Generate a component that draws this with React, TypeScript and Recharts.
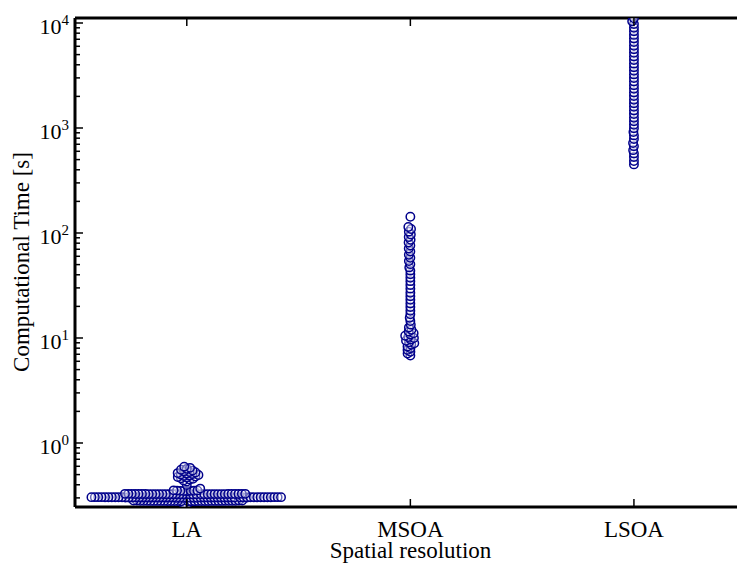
import React from "react";
import { ScatterChart, Scatter, XAxis, YAxis } from "recharts";

// ---------- data ----------
const categories = ["LA", "MSOA", "LSOA"];

const laTimes = [
  // lowest values
  0.260, 0.264,
  // ~0.28
  0.281, 0.280, 0.282, 0.279, 0.283, 0.281, 0.280, 0.282, 0.281, 0.279, 0.283, 0.280, 0.282, 0.281,
  0.280, 0.282, 0.281, 0.283, 0.279, 0.281, 0.280, 0.282, 0.281, 0.280, 0.282, 0.283, 0.281, 0.279,
  0.280, 0.282, 0.281, 0.280,
  // ~0.30 (bulk)
  0.303, 0.302, 0.304, 0.301, 0.305, 0.303, 0.302, 0.304, 0.303, 0.301, 0.305, 0.302, 0.304, 0.303,
  0.302, 0.304, 0.303, 0.305, 0.301, 0.303, 0.302, 0.304, 0.303, 0.302, 0.304, 0.305, 0.303, 0.301,
  0.302, 0.304, 0.303, 0.302, 0.304, 0.303, 0.301, 0.305, 0.302, 0.304, 0.303, 0.302, 0.304, 0.303,
  0.305, 0.301, 0.303, 0.302, 0.304, 0.303, 0.302, 0.304, 0.305, 0.303, 0.301, 0.302, 0.304, 0.303,
  // ~0.33
  0.326, 0.325, 0.327, 0.324, 0.328, 0.326, 0.325, 0.327, 0.326, 0.324, 0.328, 0.325, 0.327, 0.326,
  0.325, 0.327, 0.326, 0.328, 0.324, 0.326, 0.325, 0.327, 0.326, 0.325, 0.327, 0.328, 0.326, 0.324,
  0.325, 0.327, 0.326, 0.325, 0.327, 0.326, 0.324, 0.328,
  // ~0.35 and above
  0.349, 0.352, 0.350, 0.353, 0.348, 0.351, 0.354, 0.350,
  0.368, 0.398,
  // upper cluster
  0.43, 0.44, 0.448, 0.456, 0.462, 0.468, 0.474, 0.48, 0.486, 0.491, 0.496, 0.501, 0.506, 0.511,
  0.517, 0.523, 0.53, 0.538, 0.546, 0.556, 0.567, 0.58, 0.595,
];

const msoaTimes = [
  6.8, 7.1, 7.4, 7.7, 8.0, 8.3, 8.6, 8.9, 9.1, 9.4, 9.7, 10.0, 10.2, 10.5, 10.8, 11.1, 11.5, 12.0,
  12.6, 13.4, 14.5, 15.6, 16.8, 18.2, 19.7, 21.3, 23.1, 25.0, 27.0, 29.5, 32.0, 34.8, 37.5, 40.5,
  43.8, 47.0, 50.5, 54.0, 58.0, 62.0, 66.5, 71.0, 76.0, 81.0, 86.0, 91.5, 97.0, 103.0, 109.0, 114.0,
  143.0,
];

const lsoaTimes = [
  450, 485, 530, 572, 615, 670, 720, 785, 850, 915, 995, 1075, 1160, 1250, 1360, 1470, 1595, 1720,
  1860, 2020, 2180, 2360, 2550, 2770, 2990, 3240, 3500, 3790, 4100, 4430, 4800, 5200, 5620, 6080,
  6580, 7120, 7700, 8330, 9020, 9760, 10400, 11080,
];

const majorTicks = [1, 10, 100, 1000, 10000];
const minorTicks = [
  0.3, 0.4, 0.5, 0.6, 0.7, 0.8, 0.9,
  2, 3, 4, 5, 6, 7, 8, 9,
  20, 30, 40, 50, 60, 70, 80, 90,
  200, 300, 400, 500, 600, 700, 800, 900,
  2000, 3000, 4000, 5000, 6000, 7000, 8000, 9000,
];
const exponents: Record<number, string> = { 1: "0", 10: "1", 100: "2", 1000: "3", 10000: "4" };

// ---------- layout ----------
const W = 737;
const H = 568;
const LEFT = 75;
const TOP = 18;
const BOTTOM_AXIS_H = 61;
const X_DOMAIN: [number, number] = [-0.5, 2.461];
const Y_DOMAIN: [number, number] = [0.2457, 11158];
const PLOT_W = W - LEFT;
const PLOT_H = H - TOP - BOTTOM_AXIS_H;
const PX_PER_UNIT = PLOT_W / (X_DOMAIN[1] - X_DOMAIN[0]);
const PX_PER_DECADE = PLOT_H / (Math.log10(Y_DOMAIN[1]) - Math.log10(Y_DOMAIN[0]));
const SWARM_D = 3.4;

// beeswarm layout (like a swarm plot): horizontal offsets so points don't collide
function swarm(values: number[], center: number) {
  const pts = values
    .map((v) => ({ v, py: Math.log10(v) * PX_PER_DECADE }))
    .sort((a, b) => a.py - b.py);
  const placed: { px: number; py: number; v: number }[] = [];
  const D2 = SWARM_D * SWARM_D;
  for (const p of pts) {
    const cands = [0];
    for (const q of placed) {
      const dy = p.py - q.py;
      if (Math.abs(dy) < SWARM_D) {
        const dx = Math.sqrt(D2 - dy * dy) + 1e-6;
        cands.push(q.px + dx, q.px - dx);
      }
    }
    cands.sort((a, b) => Math.abs(a) - Math.abs(b) || a - b);
    let chosen = cands[cands.length - 1];
    for (const c of cands) {
      if (placed.every((q) => (q.px - c) ** 2 + (q.py - p.py) ** 2 >= D2 - 1e-4)) {
        chosen = c;
        break;
      }
    }
    placed.push({ px: chosen, py: p.py, v: p.v });
  }
  return placed.map((q) => ({ x: center + q.px / PX_PER_UNIT, y: q.v }));
}

const points = [
  ...swarm(laTimes, 0),
  ...swarm(msoaTimes, 1),
  ...swarm(lsoaTimes, 2),
];

const SERIF = "'Liberation Serif', 'Times New Roman', serif";
const STROKE = "#00008B";

const Dot = (props: any) => {
  const { cx, cy } = props;
  if (cx == null || cy == null) return null;
  return (
    <circle cx={cx} cy={cy} r={4.2} fill="#ffffff" fillOpacity={0.4} stroke={STROKE} strokeOpacity={1} strokeWidth={1.5} />
  );
};

const BottomTick = (props: any) => {
  const { x, y, payload } = props;
  return (
    <g>
      <line x1={x} y1={y} x2={x} y2={y - 8} stroke="#000" strokeWidth={1.5} />
      <text x={x} y={y + 30} textAnchor="middle" fontFamily={SERIF} fontSize={23} fill="#000">
        {categories[payload.value]}
      </text>
    </g>
  );
};

const TopTick = (props: any) => {
  const { x, y } = props;
  return <line x1={x} y1={y} x2={x} y2={y + 8} stroke="#000" strokeWidth={1.5} />;
};

const LeftTick = (props: any) => {
  const { x, y, payload } = props;
  const v = payload.value;
  const isMajor = majorTicks.includes(v);
  return (
    <g>
      <line x1={x} y1={y} x2={x + (isMajor ? 8 : 5)} y2={y} stroke="#000" strokeWidth={1.5} />
      {isMajor && (
        <text x={x - 6} y={y + 11} textAnchor="end" fontFamily={SERIF} fontSize={22} fill="#000">
          <tspan>10</tspan>
          <tspan dy={-9} fontSize={15}>{exponents[v]}</tspan>
        </text>
      )}
    </g>
  );
};

export default function App() {
  return (
    <div style={{ position: "fixed", left: 0, top: 0, width: W, height: H, background: "#fff", overflow: "hidden" }}>
      <ScatterChart width={W} height={H} margin={{ top: TOP - 1, right: 0, bottom: 0, left: 0 }}>
        <XAxis
          xAxisId="b"
          type="number"
          dataKey="x"
          domain={X_DOMAIN}
          allowDataOverflow
          ticks={[0, 1, 2]}
          interval={0}
          height={BOTTOM_AXIS_H}
          tickSize={0}
          tickMargin={0}
          tickLine={false}
          axisLine={{ stroke: "#000", strokeWidth: 3 }}
          tick={<BottomTick />}
        />
        <XAxis
          xAxisId="t"
          orientation="top"
          type="number"
          dataKey="x"
          domain={X_DOMAIN}
          allowDataOverflow
          ticks={[0, 1, 2]}
          interval={0}
          height={1}
          tickSize={0}
          tickMargin={0}
          tickLine={false}
          axisLine={{ stroke: "#000", strokeWidth: 3 }}
          tick={<TopTick />}
        />
        <YAxis
          yAxisId="l"
          type="number"
          dataKey="y"
          scale="log"
          domain={Y_DOMAIN}
          allowDataOverflow
          ticks={[...majorTicks, ...minorTicks]}
          interval={0}
          width={LEFT}
          tickSize={0}
          tickMargin={0}
          tickLine={false}
          axisLine={{ stroke: "#000", strokeWidth: 3 }}
          tick={<LeftTick />}
        />
        <Scatter xAxisId="b" yAxisId="l" data={points} shape={<Dot />} isAnimationActive={false} />
      </ScatterChart>
      <svg width={W} height={H} style={{ position: "absolute", left: 0, top: 0, pointerEvents: "none" }}>
        <text x={410.5} y={558} textAnchor="middle" fontFamily={SERIF} fontSize={23} fill="#000">
          Spatial resolution
        </text>
        <text transform="translate(28.5, 262) rotate(-90)" textAnchor="middle" fontFamily={SERIF} fontSize={23} fill="#000">
          Computational Time [s]
        </text>
      </svg>
    </div>
  );
}
